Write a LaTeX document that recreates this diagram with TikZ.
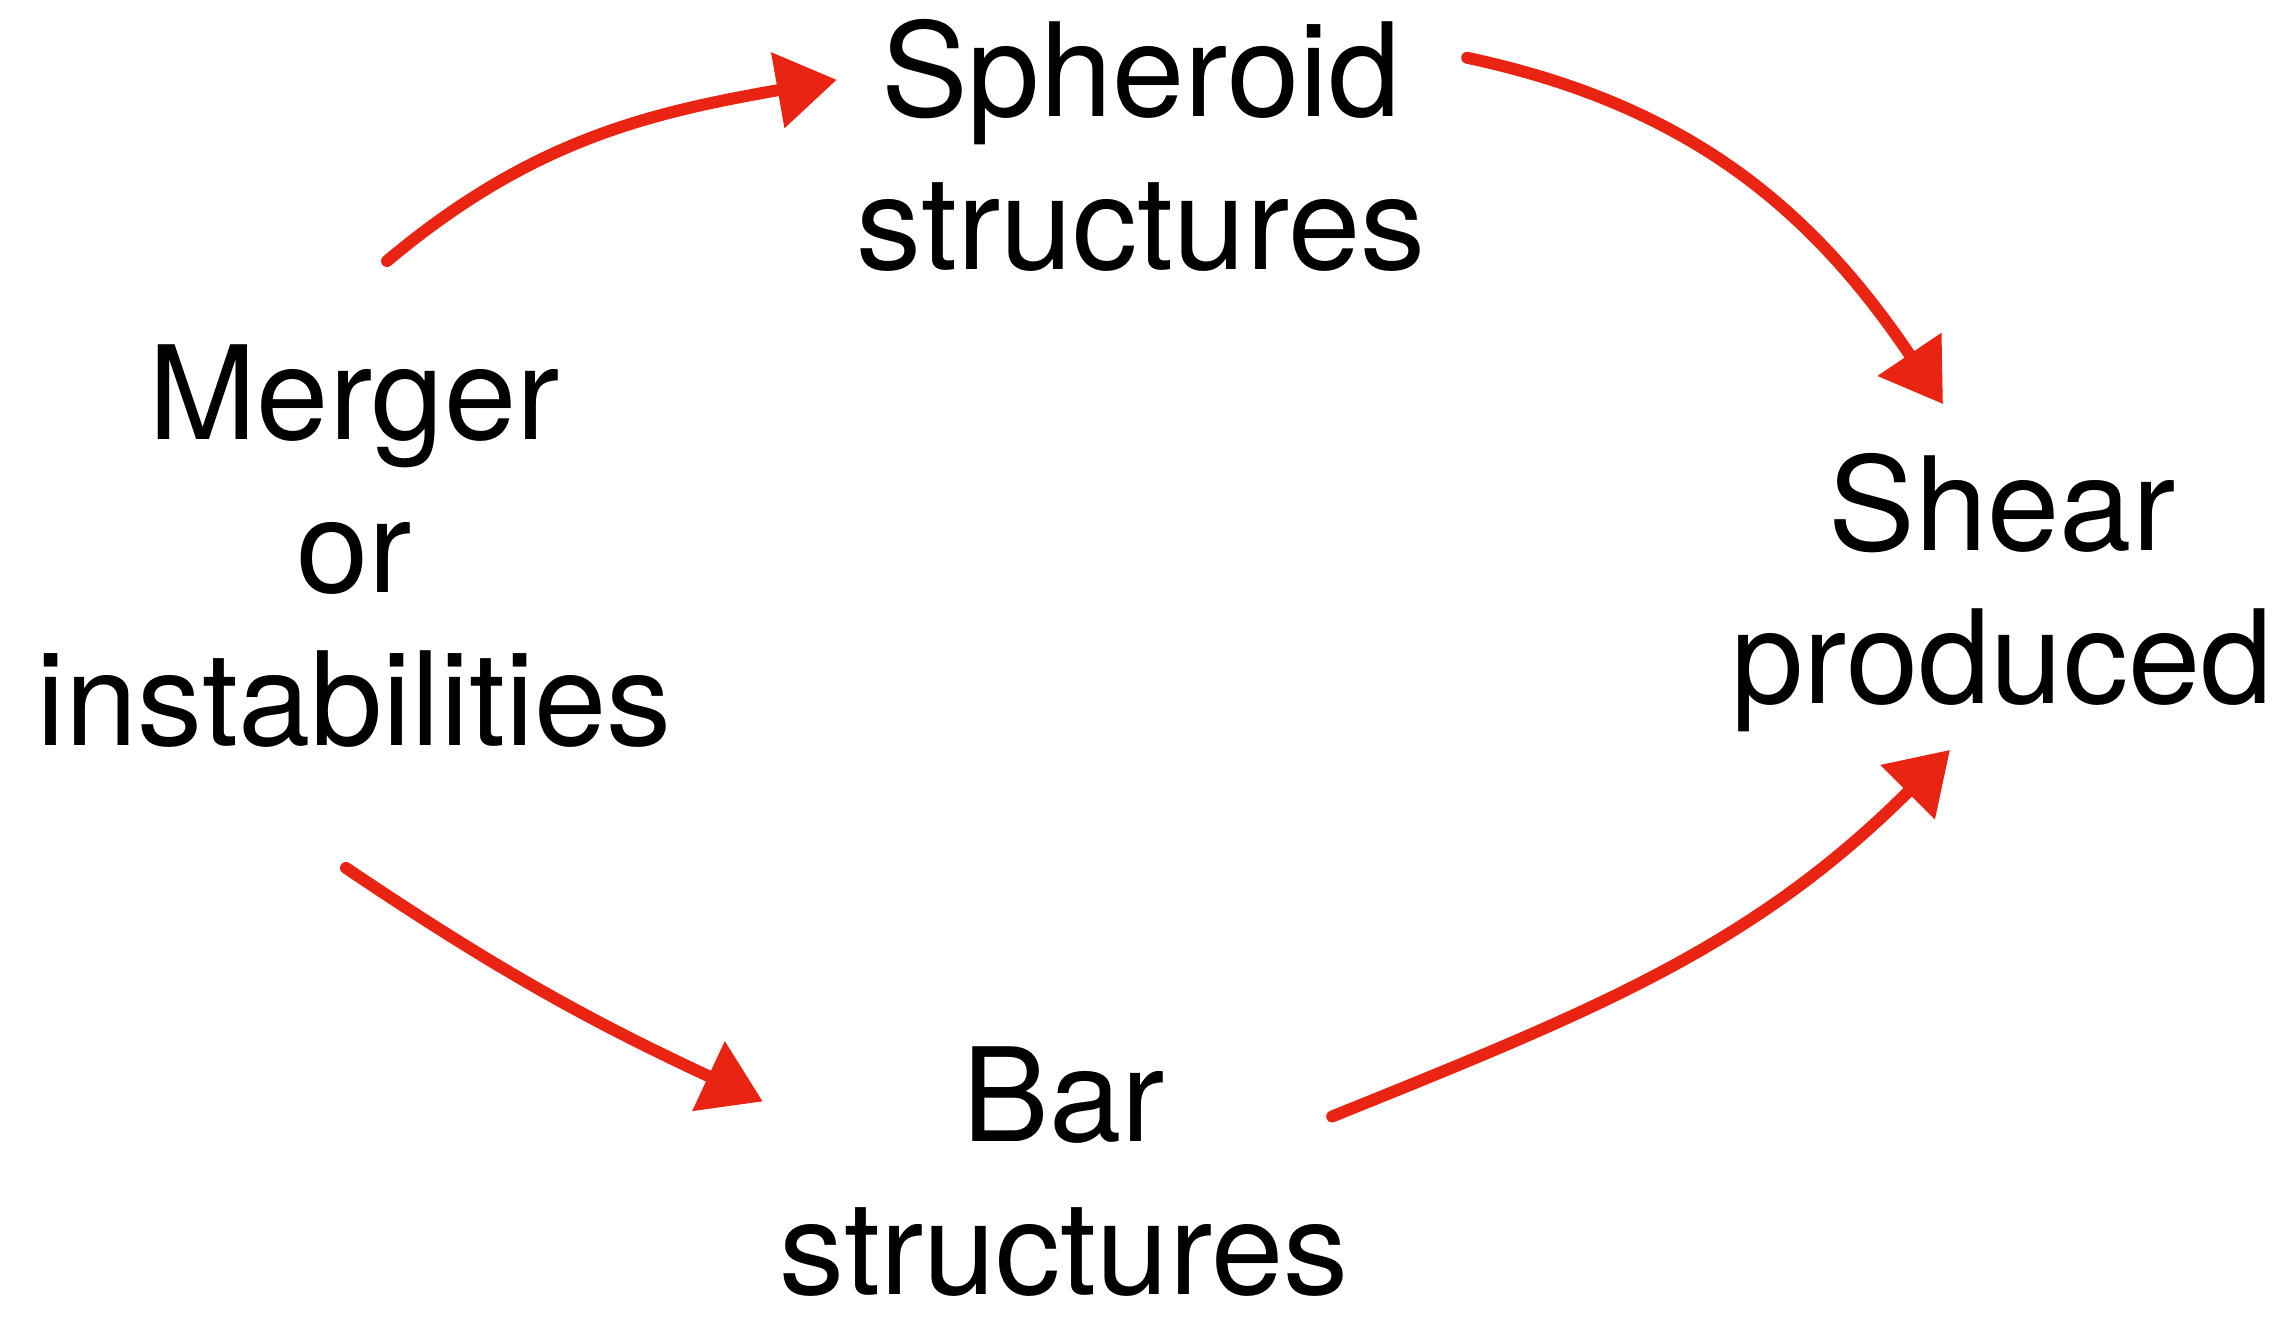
\documentclass[tikz,border=0pt]{standalone}
\usepackage{fontspec}
\setmainfont{TeX Gyre Heros}
\usetikzlibrary{arrows.meta,positioning}
\definecolor{arrowred}{RGB}{233,36,18}
\begin{document}
\begin{tikzpicture}[>={Triangle[length=0.6cm,width=0.74cm]},
		every node/.style={inner sep=0pt,align=center,font=\fontsize{37}{43.5}\selectfont},
		flow/.style={->,draw=arrowred,line width=3.4pt,line cap=round}]
	\useasboundingbox (0,0) rectangle (22.91,-13.17);
	% the four stages
	\node (merger)   at (3.54,-5.46)  {Merger\\or\\instabilities};
	\node (spheroid) at (11.41,-1.455) {Spheroid\\structures};
	\node (bar)      at (10.64,-11.72) {Bar\\structures};
	\node (shear)    at (20.02,-5.93)  {Shear\\produced};
	% red arrows
	\draw[flow] ([xshift=0.33cm,yshift=0.83cm]merger.north) to[out=40,in=190] ([xshift=-0.19cm,yshift=-0.61cm]spheroid.north west);
	\draw[flow] ([xshift=0.41cm,yshift=-0.39cm]spheroid.north east) to[out=-12,in=124] ([xshift=-0.59cm,yshift=0.49cm]shear.north);
	\draw[flow] ([xshift=-0.08cm,yshift=-1.2cm]merger.south) to[out=-34,in=155] ([xshift=-0.16cm,yshift=-0.55cm]bar.north west);
	\draw[flow] ([xshift=-0.17cm,yshift=-0.7cm]bar.north east) to[out=22,in=225] ([xshift=-0.52cm,yshift=-0.17cm]shear.south);
\end{tikzpicture}
\end{document}
